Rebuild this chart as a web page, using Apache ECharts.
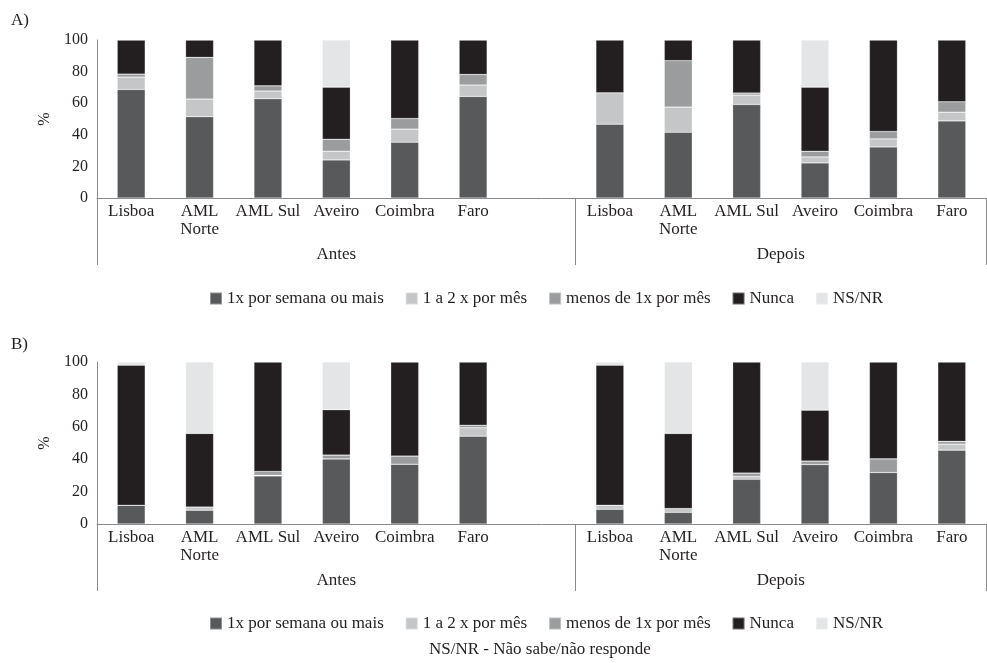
<!DOCTYPE html>
<html>
<head>
<meta charset="utf-8">
<script src="https://cdn.jsdelivr.net/npm/echarts@6/dist/echarts.min.js"></script>
<style>
  html, body { margin: 0; padding: 0; background: #fff; }
  #chart { width: 987px; height: 663px; }
</style>
</head>
<body>
<div id="chart"></div>
<script>
// Regions shown in each period block
const regions = ['Lisboa', 'AML Norte', 'AML Sul', 'Aveiro', 'Coimbra', 'Faro'];
const periods = ['Antes', 'Depois'];
const seriesNames = ['1x por semana ou mais', '1 a 2 x por mês', 'menos de 1x por mês', 'Nunca', 'NS/NR'];
const seriesColors = ['#58595b', '#c5c6c8', '#9b9c9e', '#231f20', '#e4e5e6'];
const yTicks = [0, 20, 40, 60, 80, 100];
const footNote = 'NS/NR - Não sabe/não responde';

// Panel A: 6 values "Antes" followed by 6 values "Depois" (%)
const aSemanal = [68.7, 51.4, 62.8, 24.1, 35.3, 64.3, 46.7, 41.6, 59.2, 22.2, 32.3, 48.8];
const aMensal  = [7.8, 11.2, 4.9, 5.5, 8.3, 7.2, 19.9, 15.9, 5.9, 3.8, 5.1, 5.5];
const aMenos   = [1.9, 26.4, 3.3, 7.6, 6.7, 6.7, 0, 29.4, 1.3, 3.6, 4.7, 6.6];
const aNunca   = [21.6, 11.0, 29.0, 33.0, 49.7, 21.8, 33.4, 13.1, 33.6, 40.6, 57.9, 39.1];
const aNsnr    = [0, 0, 0, 29.8, 0, 0, 0, 0, 0, 29.8, 0, 0];

// Panel B
const bSemanal = [11.6, 8.5, 29.7, 40.2, 36.9, 54.2, 9.1, 7.2, 27.6, 36.7, 31.8, 45.6];
const bMensal  = [0, 2.0, 0.4, 0, 0, 5.2, 2.5, 2.3, 1.7, 0, 0, 3.7];
const bMenos   = [0, 0, 2.3, 2.3, 5.0, 1.6, 0, 0, 2.1, 2.1, 8.4, 1.7];
const bNunca   = [86.4, 45.4, 67.6, 28.0, 58.1, 39.0, 86.4, 46.4, 68.6, 31.5, 59.8, 49.0];
const bNsnr    = [2.0, 44.1, 0, 29.5, 0, 0, 2.0, 44.1, 0, 29.7, 0, 0];

// Category slots: regions of "Antes", one empty slot, regions of "Depois"
const categories = [...regions, '', ...regions];
function withGap(arr) {
  return [...arr.slice(0, regions.length), null, ...arr.slice(regions.length)];
}
// Period blocks on a continuous scale over the category slots
const blockEdges = [0, regions.length + 1, categories.length];
const blockCenters = [blockEdges[0] + (blockEdges[1] - blockEdges[0]) / 2,
                      blockEdges[1] + (blockEdges[2] - blockEdges[1]) / 2];

const FONT = 'Liberation Serif';
const TXT = '#231f20';
const LINE = '#8a8a8a';

const grids = [
  { left: 97, right: 1, top: 40, height: 158 },
  { left: 97, right: 1, top: 362, height: 162 }
];

const xAxes = [];
const yAxes = [];
grids.forEach((g, gi) => {
  xAxes.push({
    type: 'category', gridIndex: gi, data: categories,
    axisLine: { lineStyle: { color: LINE, width: 1 } },
    axisTick: { show: false },
    axisLabel: {
      interval: 0, margin: 5, color: TXT, fontFamily: FONT, fontSize: 17, lineHeight: 18,
      formatter: v => v === 'AML Norte' ? 'AML\nNorte' : v
    }
  });
  xAxes.push({
    type: 'value', gridIndex: gi, position: 'bottom', offset: 67,
    min: 0, max: categories.length,
    axisLine: { show: false },
    splitLine: { show: false },
    axisTick: { show: true, inside: true, length: 67, customValues: blockEdges,
                lineStyle: { color: LINE, width: 1 } },
    axisLabel: {
      inside: true, margin: 2, customValues: blockCenters,
      color: TXT, fontFamily: FONT, fontSize: 17,
      formatter: v => periods[blockCenters.indexOf(v)] || ''
    }
  });
  yAxes.push({
    type: 'value', gridIndex: gi, min: yTicks[0], max: yTicks[yTicks.length - 1], interval: 20,
    name: '%', nameLocation: 'middle', nameGap: 43, nameRotate: 90,
    nameTextStyle: { color: TXT, fontFamily: FONT, fontSize: 16 },
    axisLine: { show: true, lineStyle: { color: LINE, width: 1 } },
    axisTick: { show: false },
    splitLine: { show: false },
    axisLabel: { margin: 9, color: TXT, fontFamily: FONT, fontSize: 16 }
  });
});

const panelData = [
  [aSemanal, aMensal, aMenos, aNunca, aNsnr],
  [bSemanal, bMensal, bMenos, bNunca, bNsnr]
];

const series = [];
panelData.forEach((rows, gi) => {
  rows.forEach((vals, si) => {
    series.push({
      name: seriesNames[si], type: 'bar', stack: 'panel' + gi,
      xAxisIndex: gi * 2, yAxisIndex: gi,
      barWidth: 28,
      data: withGap(vals),
      itemStyle: { color: seriesColors[si], borderColor: 'rgba(255,255,255,0.35)', borderWidth: 0.6 },
      emphasis: { disabled: true },
      animation: false
    });
  });
});

const legendBase = {
  data: seriesNames, icon: 'rect', itemWidth: 12, itemHeight: 12, itemGap: 21,
  left: 204, selectedMode: false,
  textStyle: { color: TXT, fontFamily: FONT, fontSize: 17 }
};

const chart = echarts.init(document.getElementById('chart'), null, { renderer: 'canvas' });
chart.setOption({
  backgroundColor: '#fff',
  animation: false,
  color: seriesColors,
  title: [
    { text: 'A)', left: 6, top: 7, textStyle: { color: TXT, fontFamily: FONT, fontSize: 17, fontWeight: 'normal' } },
    { text: 'B)', left: 6, top: 331, textStyle: { color: TXT, fontFamily: FONT, fontSize: 17, fontWeight: 'normal' } },
    { text: footNote, left: 424, top: 636, textStyle: { color: TXT, fontFamily: FONT, fontSize: 17, fontWeight: 'normal' } }
  ],
  legend: [
    Object.assign({}, legendBase, { top: 285 }),
    Object.assign({}, legendBase, { top: 610 })
  ],
  grid: grids,
  xAxis: xAxes,
  yAxis: yAxes,
  series: series
});
</script>
</body>
</html>
